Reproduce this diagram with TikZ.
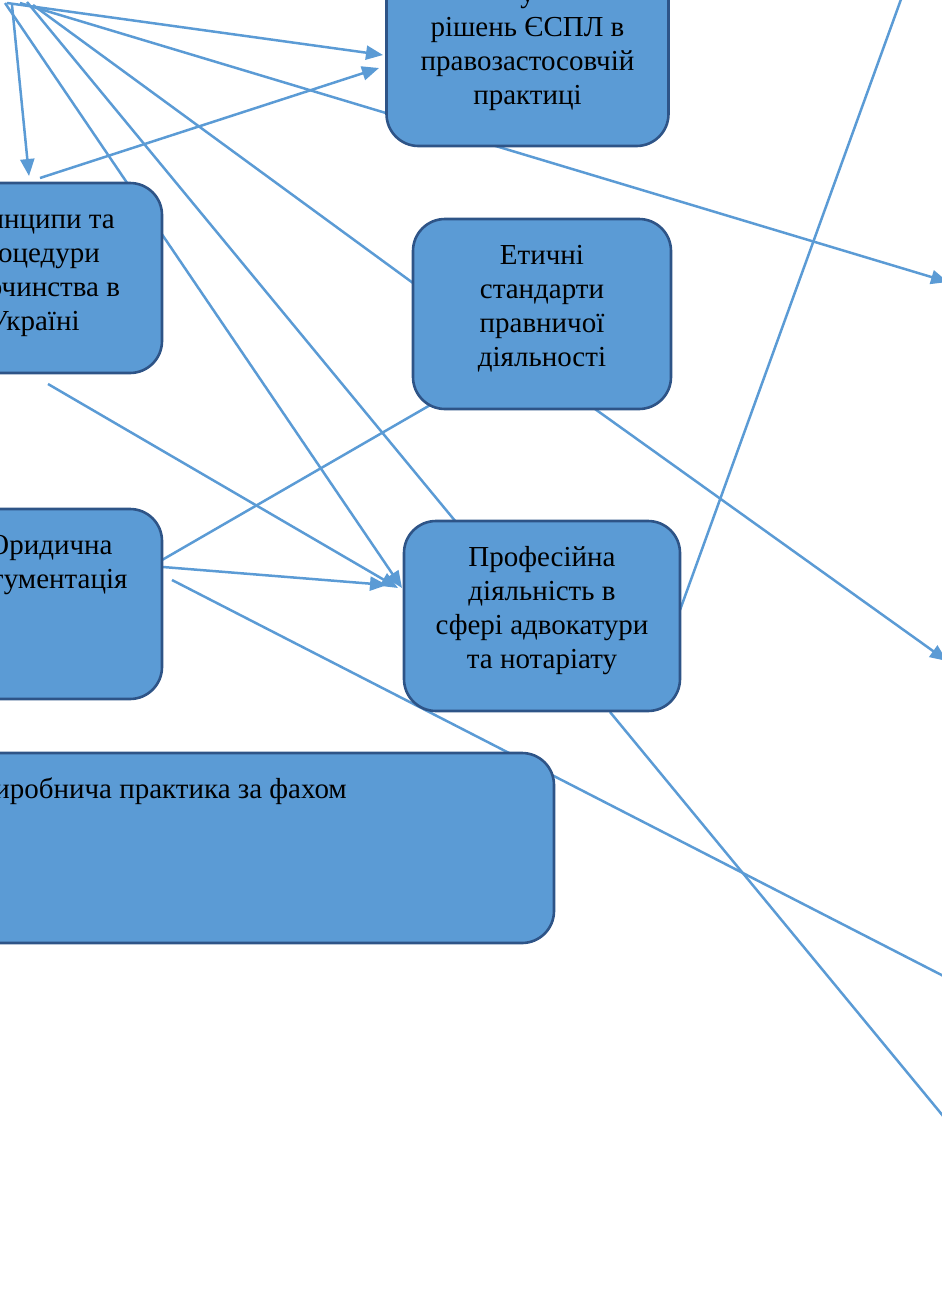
\documentclass[tikz,border=0pt]{standalone}
\usepackage{fontspec}
\setmainfont{Liberation Serif}
\usetikzlibrary{arrows.meta,backgrounds}
\definecolor{boxfill}{HTML}{5B9BD5}
\definecolor{boxline}{HTML}{2E5487}
\definecolor{conncol}{HTML}{5B9BD5}
\begin{document}
\begin{tikzpicture}[x=1pt,y=-1pt,
  box/.style={draw=boxline, line width=2.6pt, fill=boxfill, rounded corners=32pt, inner sep=0pt, minimum height=190pt},
  txt/.style={inner sep=0pt, align=center, font=\fontsize{29}{34}\selectfont, text=black, anchor=north},
  link/.style={draw=conncol, line width=2.5pt},
  arr/.style={link, -{Triangle[length=17pt,width=14pt]}}]
\path[use as bounding box] (0,0) rectangle (942,1310);
\clip (0,0) rectangle (942,1310);

% boxes
\node (A) [box, minimum width=282pt] at (527.5,51) {};
\node (B) [box, minimum width=262pt] at (31,278) {};
\node (C) [box, minimum width=262pt] at (31,604) {};
\node (D) [box, minimum width=258pt] at (542,314) {};
\node (E) [box, minimum width=276pt] at (542,616) {};
\node (F) [box, minimum width=794pt] at (157,848) {};

% texts
\node (tA) [txt] at (527.5,-21.8) {\strut у\\\strut рішень ЄСПЛ в\\\strut правозастосовчій\\\strut практиці};
\node (tB) [txt] at (34,204.2) {\strut Принципи та\\\strut процедури\\\strut судочинства в\\\strut Україні};
\node (tC) [txt] at (46,530.2) {\strut Юридична\\\strut аргументація};
\node (tD) [txt] at (542,240.2) {\strut Етичні\\\strut стандарти\\\strut правничої\\\strut діяльності};
\node (tE) [txt] at (542,542.2) {\strut Професійна\\\strut діяльність в\\\strut сфері адвокатури\\\strut та нотаріату};
\node (tF) [txt, anchor=north east] at (347,774.2) {\strut Виробнича практика за фахом};

% connector end points
\coordinate (o1) at (7,3);
\coordinate (o3) at (20,3);
\coordinate (o4) at (12,5);
\coordinate (o5) at (5,3);
\coordinate (o6) at (27,2);
\coordinate (o7) at (33,5);
\coordinate (a1) at (383,55);
\coordinate (b2) at (40,178);
\coordinate (a2) at (379,68);
\coordinate (r3) at (948,282);
\coordinate (b4) at (29,176);
\coordinate (e5) at (402,588);
\coordinate (e6) at (456,522);
\coordinate (d7) at (413,283);
\coordinate (c8) at (162,560);
\coordinate (d8) at (432,404);
\coordinate (c9) at (163,567);
\coordinate (e9) at (387,585);
\coordinate (b10) at (48,384);
\coordinate (e10) at (398,588);
\coordinate (c11) at (172,580);
\coordinate (r11) at (1000,1005);
\coordinate (d12) at (595,409);
\coordinate (r12) at (947,661);
\coordinate (e13) at (680,610);
\coordinate (t13) at (908,-20);
\coordinate (e14) at (610,712);
\coordinate (r14) at (1000,1185);

\begin{scope}[on background layer]
\clip (0,0) rectangle (942,1310);
\draw[arr] (o1) -- (a1);
\draw[arr] (b2) -- (a2);
\draw[arr] (o3) -- (r3);
\draw[arr] (o4) -- (b4);
\draw[arr] (o5) -- (e5);
\draw[link] (o6) -- (e6);
\draw[link] (o7) -- (d7);
\draw[link] (c8) -- (d8);
\draw[arr] (c9) -- (e9);
\draw[arr] (b10) -- (e10);
\draw[link] (c11) -- (r11);
\draw[arr] (d12) -- (r12);
\draw[link] (e13) -- (t13);
\draw[link] (e14) -- (r14);
\end{scope}
\end{tikzpicture}
\end{document}
